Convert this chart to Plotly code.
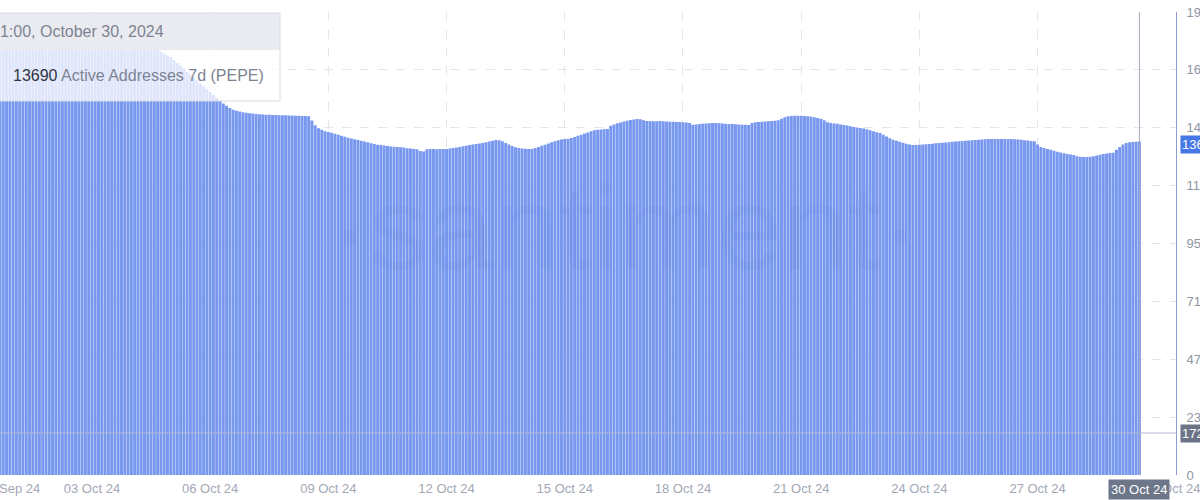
import pandas as pd
import plotly.graph_objects as go

# Active Addresses 7d (PEPE), one bar every 2 hours
start = "2024-09-30 16:00"
sep30 = [18350, 18360, 18340, 18370]
oct01 = [18380, 18400, 18390, 18410, 18420, 18400, 18390, 18380, 18400, 18410, 18390, 18370]
oct02 = [18360, 18340, 18350, 18330, 18310, 18300, 18290, 18280, 18270, 18260, 18250, 18240]
oct03 = [18230, 18210, 18190, 18170, 18150, 18130, 18110, 18090, 18070, 18050, 18030, 18010]
oct04 = [17990, 17940, 17870, 17800, 17730, 17660, 17590, 17520, 17450, 17380, 17300, 17220]
oct05 = [17150, 17030, 16910, 16790, 16670, 16550, 16430, 16310, 16190, 16070, 15950, 15830]
oct06 = [15710, 15590, 15470, 15360, 15250, 15150, 15060, 14990, 14950, 14920, 14890, 14870]
oct07 = [14850, 14830, 14810, 14800, 14790, 14780, 14780, 14770, 14770, 14760, 14760, 14760]
oct08 = [14750, 14750, 14740, 14740, 14730, 14730, 14720, 14550, 14350, 14230, 14170, 14110]
oct09 = [14080, 14040, 14000, 13960, 13920, 13880, 13840, 13810, 13780, 13750, 13720, 13690]
oct10 = [13650, 13610, 13580, 13550, 13540, 13520, 13500, 13480, 13470, 13460, 13450, 13440]
oct11 = [13410, 13400, 13380, 13370, 13300, 13280, 13370, 13380, 13380, 13370, 13380, 13380]
oct12 = [13380, 13400, 13420, 13440, 13460, 13490, 13510, 13540, 13560, 13580, 13600, 13620]
oct13 = [13660, 13690, 13720, 13750, 13740, 13700, 13620, 13560, 13500, 13450, 13420, 13400]
oct14 = [13390, 13380, 13380, 13420, 13460, 13510, 13550, 13600, 13650, 13700, 13740, 13770]
oct15 = [13790, 13800, 13830, 13870, 13920, 13960, 14010, 14060, 14110, 14150, 14170, 14180]
oct16 = [14190, 14200, 14330, 14380, 14430, 14470, 14510, 14540, 14570, 14590, 14610, 14600]
oct17 = [14560, 14530, 14530, 14520, 14520, 14530, 14520, 14510, 14500, 14500, 14490, 14490]
oct18 = [14480, 14470, 14450, 14370, 14380, 14400, 14410, 14420, 14430, 14440, 14440, 14430]
oct19 = [14420, 14410, 14400, 14400, 14390, 14380, 14370, 14370, 14360, 14450, 14480, 14490]
oct20 = [14500, 14510, 14520, 14530, 14540, 14560, 14620, 14680, 14720, 14730, 14740, 14740]
oct21 = [14740, 14730, 14720, 14700, 14680, 14650, 14620, 14560, 14480, 14440, 14420, 14410]
oct22 = [14380, 14360, 14340, 14310, 14280, 14260, 14240, 14220, 14190, 14150, 14110, 14070]
oct23 = [14030, 13960, 13890, 13820, 13760, 13720, 13680, 13630, 13590, 13560, 13540, 13540]
oct24 = [13550, 13560, 13570, 13580, 13590, 13610, 13620, 13630, 13640, 13660, 13680, 13690]
oct25 = [13700, 13710, 13720, 13730, 13740, 13750, 13760, 13770, 13780, 13790, 13790, 13790]
oct26 = [13790, 13790, 13790, 13790, 13790, 13780, 13770, 13760, 13740, 13730, 13710, 13700]
oct27 = [13560, 13460, 13420, 13380, 13350, 13310, 13270, 13230, 13200, 13170, 13150, 13130]
oct28 = [13080, 13060, 13050, 13050, 13060, 13080, 13110, 13140, 13170, 13190, 13210, 13220]
oct29 = [13350, 13460, 13560, 13620, 13660, 13670, 13680, 13690]

active = (sep30 + oct01 + oct02 + oct03 + oct04 + oct05 + oct06 + oct07 + oct08
          + oct09 + oct10 + oct11 + oct12 + oct13 + oct14 + oct15 + oct16 + oct17
          + oct18 + oct19 + oct20 + oct21 + oct22 + oct23 + oct24 + oct25 + oct26
          + oct27 + oct28 + oct29)
times = pd.date_range(start, periods=len(active), freq="2h")

x_ticks = ["2024-10-03", "2024-10-06", "2024-10-09", "2024-10-12", "2024-10-15",
           "2024-10-18", "2024-10-21", "2024-10-24", "2024-10-27"]
y_ticks = [0, 2375, 4750, 7125, 9500, 11875, 14250, 16625, 19000]
y_labels = ["0", "2375", "4750", "7125", "9500", "11.88K", "14.25K", "16.63K", "19K"]
crosshair_value = 1724
tooltip_time = "01:00, October 30, 2024"
metric_name = "Active Addresses 7d (PEPE)"

# plot area in pixels (figure is 1200 x 500)
PL, PR, PT, PB = 0, 1176, 12, 475
def px(xp):
    return (xp - PL) / (PR - PL)
def py(yp):
    return (PB - yp) / (PB - PT)

font = "Liberation Sans, Arial, sans-serif"
grey = "#8e95a4"

fig = go.Figure()
fig.add_trace(go.Bar(
    x=times, y=active,
    marker=dict(color="#7898ef", line=dict(width=0)),
    hoverinfo="skip",
))

shapes = [
    # crosshair
    dict(type="line", xref="paper", yref="y", x0=0, x1=1,
         y0=crosshair_value, y1=crosshair_value,
         line=dict(color="#b4bbd2", width=1), layer="above"),
    dict(type="line", xref="x", yref="paper", x0=times[-1], x1=times[-1],
         y0=0, y1=1, line=dict(color="#a3a9b8", width=1), layer="above"),
    # tooltip
    dict(type="rect", xref="paper", yref="paper", x0=px(-5), x1=px(280),
         y0=py(50), y1=py(101), fillcolor="rgba(255,255,255,0.76)",
         line=dict(width=0), layer="above"),
    dict(type="rect", xref="paper", yref="paper", x0=px(-5), x1=px(280),
         y0=py(13), y1=py(50), fillcolor="#e9ebf0",
         line=dict(width=0), layer="above"),
    dict(type="rect", xref="paper", yref="paper", x0=px(-5), x1=px(280),
         y0=py(13), y1=py(101), fillcolor="rgba(0,0,0,0)",
         line=dict(color="#d8dbe2", width=1), layer="above"),
]

annotations = [
    dict(text="·santiment·", xref="paper", yref="paper", x=px(625), y=py(228),
         showarrow=False, font=dict(family=font, size=118, color="rgba(70,80,200,0.06)")),
    dict(text=tooltip_time, xref="paper", yref="paper", x=px(-11), y=py(31),
         xanchor="left", yanchor="middle", showarrow=False,
         font=dict(family=font, size=16, color="#7d8392")),
    dict(text=f"<span style='color:#2f3542'>{active[-1]}</span> {metric_name}",
         xref="paper", yref="paper", x=px(11), y=py(75),
         xanchor="left", yanchor="middle", showarrow=False,
         font=dict(family=font, size=16, color="#7d8392")),
    # edge date labels
    dict(text="30 Sep 24", xref="paper", yref="paper", x=px(10), y=0,
         xanchor="center", yanchor="top", yshift=-4, showarrow=False,
         font=dict(family=font, size=13, color="#a2a8b5")),
    dict(text="30 Oct 24", xref="paper", yref="paper", x=px(1172), y=0,
         xanchor="center", yanchor="top", yshift=-4, showarrow=False,
         font=dict(family=font, size=13, color="#a2a8b5")),
    # axis markers
    dict(text=str(active[-1]), xref="paper", yref="y", x=1, y=active[-1],
         xanchor="left", yanchor="middle", xshift=4, yshift=-3, showarrow=False,
         bgcolor="#4776e6", borderpad=1, font=dict(family=font, size=13, color="white")),
    dict(text=str(crosshair_value), xref="paper", yref="y", x=1, y=crosshair_value,
         xanchor="left", yanchor="middle", xshift=4, yshift=-1, showarrow=False,
         bgcolor="#6b7486", borderpad=1, font=dict(family=font, size=13, color="white")),
    dict(text="30 Oct 24", xref="x", yref="paper", x=times[-1], y=0,
         yanchor="top", yshift=-4, showarrow=False,
         bgcolor="#6e778a", borderpad=2, font=dict(family=font, size=13, color="white")),
]

fig.update_layout(
    width=1200, height=500,
    margin=dict(l=PL, r=1200 - PR, t=PT, b=500 - PB, autoexpand=False),
    plot_bgcolor="white", paper_bgcolor="white",
    showlegend=False, bargap=0.1,
    font=dict(family=font, size=13, color=grey),
    shapes=shapes, annotations=annotations,
    xaxis=dict(
        type="date", range=["2024-09-30 16:00", "2024-10-30 12:18"],
        tickvals=x_ticks, tickformat="%d %b %y", automargin=False,
        showgrid=True, gridcolor="#e2e5eb", griddash="dash",
        zeroline=False, showline=False, ticks="", ticklabelstandoff=4,
        tickfont=dict(family=font, size=13, color="#a2a8b5"),
    ),
    yaxis=dict(
        side="right", range=[0, 19000], automargin=False,
        tickvals=y_ticks, ticktext=y_labels,
        showgrid=True, gridcolor="#e2e5eb", griddash="dash",
        zeroline=False, showline=True, linecolor="#8d9dd2", linewidth=1,
        ticks="", ticklabelstandoff=7, ticklabeloverflow="allow",
        tickfont=dict(family=font, size=13, color=grey),
    ),
)

fig.write_html("out.html", config={"displayModeBar": False},
               post_script="document.body.style.margin = '0';")
